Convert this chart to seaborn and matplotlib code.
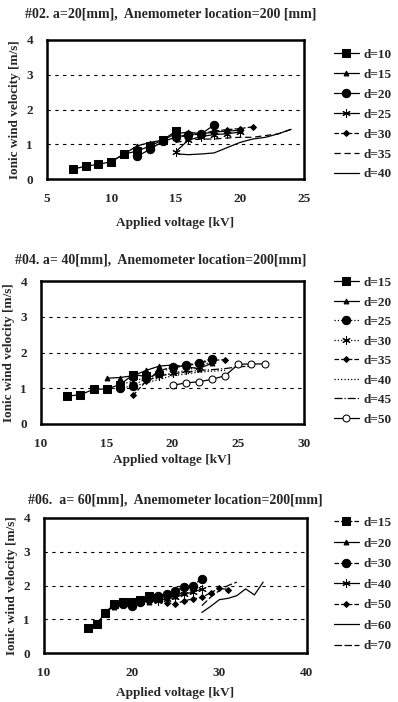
import matplotlib
matplotlib.use('Agg')
import matplotlib.pyplot as plt
import seaborn as sns

# ---- panel #02 : a=20 mm ----
p1_labels = ['d=10', 'd=15', 'd=20', 'd=25', 'd=30', 'd=35', 'd=40']
p1_d10_x = [7, 8, 9, 10, 11, 12, 13, 14, 15]
p1_d10_y = [0.28, 0.37, 0.42, 0.50, 0.72, 0.80, 0.95, 1.12, 1.37]
p1_d15_x = [10, 11, 12, 13, 14, 15, 16, 17, 18, 19, 20]
p1_d15_y = [0.50, 0.72, 0.95, 1.05, 1.12, 1.30, 1.35, 1.30, 1.35, 1.38, 1.40]
p1_d20_x = [12, 13, 14, 15, 16, 17, 18]
p1_d20_y = [0.65, 0.85, 1.08, 1.20, 1.28, 1.30, 1.55]
p1_d25_x = [15, 16, 17, 18, 19, 20]
p1_d25_y = [0.78, 1.12, 1.22, 1.28, 1.30, 1.35]
p1_d30_x = [15, 16, 17, 18, 19, 20, 21]
p1_d30_y = [1.20, 1.25, 1.30, 1.38, 1.42, 1.45, 1.50]
p1_d35_x = [15, 16, 17, 18, 19, 20, 21, 22, 23, 24]
p1_d35_y = [1.05, 1.12, 1.15, 1.15, 1.18, 1.20, 1.20, 1.25, 1.30, 1.43]
p1_d40_x = [15.2, 16, 17, 18, 19, 20, 21, 22, 23, 24]
p1_d40_y = [0.72, 0.70, 0.72, 0.75, 0.90, 1.05, 1.15, 1.20, 1.30, 1.43]

# ---- panel #04 : a=40 mm ----
p2_labels = ['d=15', 'd=20', 'd=25', 'd=30', 'd=35', 'd=40', 'd=45', 'd=50']
p2_d15_x = [12, 13, 14, 15, 16, 17, 18]
p2_d15_y = [0.78, 0.82, 0.97, 0.98, 1.10, 1.38, 1.33]
p2_d20_x = [15, 16, 17, 18, 19, 20, 21, 22, 23]
p2_d20_y = [1.28, 1.30, 1.35, 1.50, 1.62, 1.65, 1.60, 1.55, 1.70]
p2_d25_x = [16, 17, 18, 19, 20, 21, 22, 23]
p2_d25_y = [1.00, 1.07, 1.28, 1.42, 1.60, 1.65, 1.72, 1.82]
p2_d30_x = [16, 17, 18, 19, 20, 21, 22, 23]
p2_d30_y = [1.10, 1.20, 1.30, 1.35, 1.42, 1.50, 1.60, 1.75]
p2_d35_x = [17, 18, 19, 20, 21, 22, 23, 24]
p2_d35_y = [0.80, 1.20, 1.50, 1.58, 1.62, 1.70, 1.78, 1.80]
p2_d40_x = [17, 18, 19, 20, 21, 22, 23, 24]
p2_d40_y = [1.05, 1.15, 1.25, 1.35, 1.40, 1.45, 1.48, 1.50]
p2_d45_x = [18, 19, 20, 21, 22, 23, 24, 25, 26]
p2_d45_y = [1.20, 1.35, 1.40, 1.45, 1.50, 1.52, 1.55, 1.60, 1.62]
p2_d50_x = [20, 21, 22, 23, 24, 25, 26, 27]
p2_d50_y = [1.08, 1.15, 1.18, 1.25, 1.35, 1.67, 1.68, 1.68]

# ---- panel #06 : a=60 mm ----
p3_labels = ['d=15', 'd=20', 'd=30', 'd=40', 'd=50', 'd=60', 'd=70']
p3_d15_x = [15, 16, 17, 18, 19, 20, 21, 22, 23]
p3_d15_y = [0.75, 0.85, 1.20, 1.45, 1.52, 1.52, 1.58, 1.68, 1.62]
p3_d20_x = [17, 18, 19, 20, 21, 22, 23, 24, 25, 26]
p3_d20_y = [1.25, 1.35, 1.45, 1.50, 1.55, 1.50, 1.60, 1.65, 1.70, 1.80]
p3_d30_x = [19, 20, 21, 22, 23, 24, 25, 26, 27, 28]
p3_d30_y = [1.45, 1.38, 1.52, 1.60, 1.70, 1.75, 1.85, 1.95, 2.00, 2.20]
p3_d40_x = [23, 24, 25, 26, 27, 28]
p3_d40_y = [1.55, 1.60, 1.65, 1.75, 1.80, 1.90]
p3_d50_x = [24, 25, 26, 27, 28, 29, 30, 31]
p3_d50_y = [1.48, 1.45, 1.55, 1.60, 1.65, 1.78, 1.92, 1.88]
p3_d60_x = [28, 29, 30, 31, 32, 33, 34, 35]
p3_d60_y = [1.20, 1.38, 1.58, 1.62, 1.70, 1.90, 1.72, 2.10]
p3_d70_x = [28, 29, 30, 31, 32]
p3_d70_y = [1.40, 1.65, 1.85, 2.00, 2.10]

sns.set_style('white')
plt.rcParams['font.family'] = ['Liberation Serif', 'DejaVu Serif']
plt.rcParams['font.weight'] = 'bold'

ASTER = (6, 2, 0)

# marker / line style for each series
p1_styles = [
    dict(marker='s', markersize=6, linestyle='-'),
    dict(marker='^', markersize=3.5, linestyle='-'),
    dict(marker='o', markersize=6, linestyle='-'),
    dict(marker=ASTER, markersize=6, linestyle='-'),
    dict(marker='D', markersize=3, linestyle='--'),
    dict(marker='', linestyle=(0, (5, 3))),
    dict(marker='', linestyle='-'),
]
p2_styles = [
    dict(marker='s', markersize=6, linestyle='-'),
    dict(marker='^', markersize=3.5, linestyle='-'),
    dict(marker='o', markersize=6, linestyle=':'),
    dict(marker=ASTER, markersize=6, linestyle=':'),
    dict(marker='D', markersize=3, linestyle='--'),
    dict(marker='', linestyle=':'),
    dict(marker='', linestyle='-.'),
    dict(marker='o', markersize=5, markerfacecolor='white', linestyle='-'),
]
p3_styles = [
    dict(marker='s', markersize=6, linestyle='--'),
    dict(marker='^', markersize=3.5, linestyle='-'),
    dict(marker='o', markersize=6, linestyle='--'),
    dict(marker=ASTER, markersize=6, linestyle='-'),
    dict(marker='D', markersize=3, linestyle='--'),
    dict(marker='', linestyle='-'),
    dict(marker='', linestyle=(0, (6, 2))),
]

panels = [
    dict(title='#02. a=20[mm],  Anemometer location=200 [mm]',
         title_xy=(25, 14),
         box=(47, 40, 304, 179), xlim=(5, 25), xticks=[5, 10, 15, 20, 25],
         series=[(p1_d10_x, p1_d10_y), (p1_d15_x, p1_d15_y), (p1_d20_x, p1_d20_y),
                 (p1_d25_x, p1_d25_y), (p1_d30_x, p1_d30_y), (p1_d35_x, p1_d35_y),
                 (p1_d40_x, p1_d40_y)],
         labels=p1_labels, styles=p1_styles, leg_y=37, leg_sp=0.58, xpad=9),
    dict(title='#04. a= 40[mm],  Anemometer location=200[mm]',
         title_xy=(15, 260),
         box=(41, 281, 304, 424), xlim=(10, 30), xticks=[10, 15, 20, 25, 30],
         series=[(p2_d15_x, p2_d15_y), (p2_d20_x, p2_d20_y), (p2_d25_x, p2_d25_y),
                 (p2_d30_x, p2_d30_y), (p2_d35_x, p2_d35_y), (p2_d40_x, p2_d40_y),
                 (p2_d45_x, p2_d45_y), (p2_d50_x, p2_d50_y)],
         labels=p2_labels, styles=p2_styles, leg_y=265, leg_sp=0.55, xpad=3),
    dict(title='#06.  a= 60[mm],  Anemometer location=200[mm]',
         title_xy=(28, 500),
         box=(44, 518, 307, 653), xlim=(10, 40), xticks=[10, 20, 30, 40],
         series=[(p3_d15_x, p3_d15_y), (p3_d20_x, p3_d20_y), (p3_d30_x, p3_d30_y),
                 (p3_d40_x, p3_d40_y), (p3_d50_x, p3_d50_y), (p3_d60_x, p3_d60_y),
                 (p3_d70_x, p3_d70_y)],
         labels=p3_labels, styles=p3_styles, leg_y=505, leg_sp=0.63, xpad=6),
]

W, H = 398, 702
fig = plt.figure(figsize=(W / 100, H / 100), dpi=100)

for p in panels:
    l, t, r, b = p['box']
    ax = fig.add_axes([l / W, 1 - b / H, (r - l) / W, (b - t) / H])
    for (xs, ys), lab, st in zip(p['series'], p['labels'], p['styles']):
        sns.lineplot(x=xs, y=ys, ax=ax, color='black', linewidth=0.9,
                     markeredgecolor='black', label=lab, **st)
    ax.set_xlim(*p['xlim'])
    ax.set_ylim(0, 4)
    ax.set_xticks(p['xticks'])
    ax.set_yticks([0, 1, 2, 3, 4])
    for yv in [1, 2, 3]:
        ax.axhline(yv, color='black', linestyle=(0, (3, 4)), linewidth=0.8)
    for s in ax.spines.values():
        s.set_linewidth(1.8)
        s.set_color('black')
    ax.tick_params(labelsize=9.5, length=2, pad=8)
    for lbl in ax.get_xticklabels() + ax.get_yticklabels():
        lbl.set_fontweight('bold')
    ax.set_xlabel('Applied voltage [kV]', fontsize=9.5, fontweight='bold',
                  labelpad=p['xpad'])
    ax.set_ylabel('Ionic wind velocity [m/s]', fontsize=9.5, fontweight='bold',
                  labelpad=4)
    handles, labels = ax.get_legend_handles_labels()
    ax.get_legend().remove()
    fig.legend(handles, labels, loc='upper left', frameon=False,
               bbox_to_anchor=(322 / W, 1 - p['leg_y'] / H),
               handlelength=1.9, handletextpad=0.35,
               labelspacing=p['leg_sp'], prop={'weight': 'bold', 'size': 9.5})
    tx, ty = p['title_xy']
    fig.text(tx / W, 1 - ty / H, p['title'], fontsize=10, fontweight='bold',
             ha='left', va='center')

fig.savefig('out.png', dpi=100)
